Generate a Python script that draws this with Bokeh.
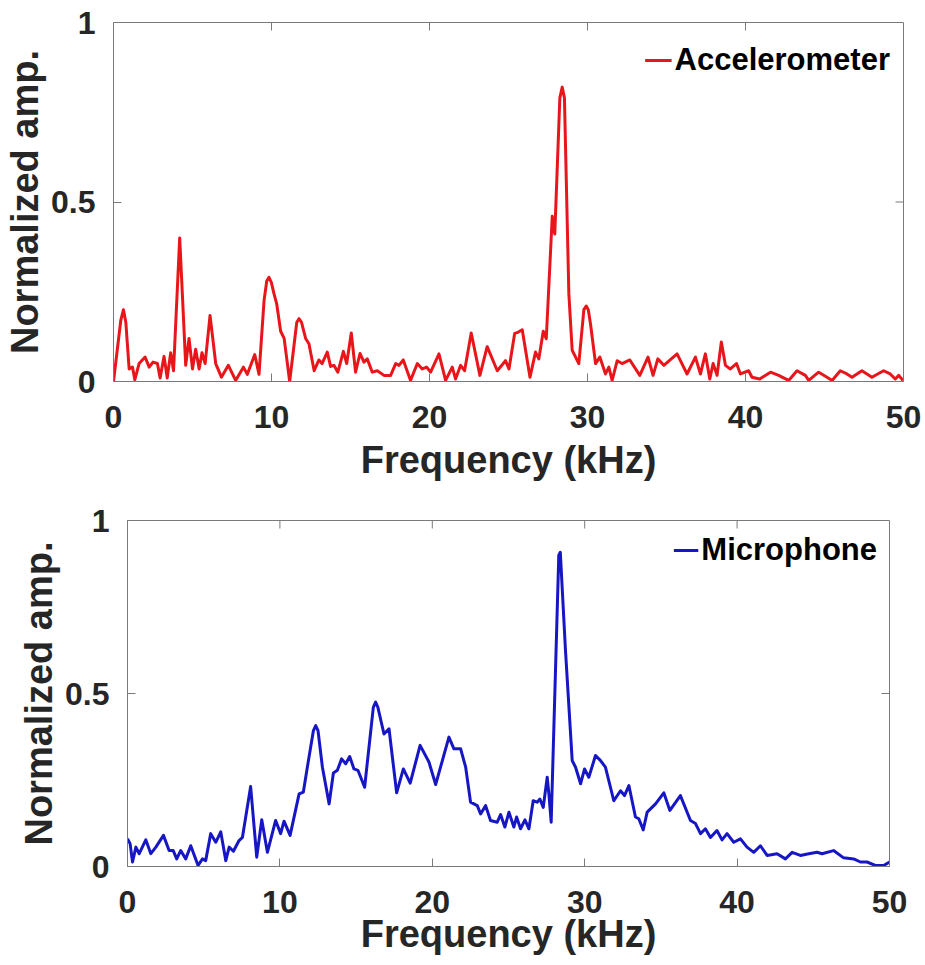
from bokeh.plotting import figure
from bokeh.models import Range1d, FixedTicker, Legend, LegendItem
from bokeh.embed import file_html
from bokeh.resources import INLINE

# ---------------- data ----------------
x_ticks = [0, 10, 20, 30, 40, 50]
y_ticks = [0, 0.5, 1]
y_tick_labels = ["0", "0.5", "1"]
x_label = "Frequency (kHz)"
y_label = "Normalized amp."

acc_name = "Accelerometer"
acc_freq = [0, 0.46, 0.63, 0.78, 0.99, 1.2, 1.35, 1.62, 2.0, 2.26, 2.5, 2.78, 2.95, 3.2, 3.4, 3.62, 3.8,
            4.19, 4.57, 4.78, 5.0, 5.2, 5.42, 5.6, 5.8, 6.11, 6.47, 6.83, 7.27, 7.73, 8.22,
            8.47, 8.94, 9.21, 9.53, 9.7, 9.84, 9.99, 10.16, 10.33, 10.58, 10.8, 11.15,
            11.6, 11.74, 11.9, 12.16, 12.37, 12.7,
            13.0, 13.2, 13.53, 13.74, 13.95, 14.2, 14.55, 14.76, 15.05, 15.32, 15.6, 15.85,
            16.06, 16.38, 16.7, 17.12, 17.54, 17.86, 18.07, 18.34, 18.8, 19.23, 19.54, 19.82,
            20.07, 20.6, 21.02, 21.44, 21.65, 21.97, 22.22, 22.64, 23.19, 23.65, 24.29, 24.81,
            25.03, 25.39, 25.6, 25.87, 26.36, 26.71, 26.92, 27.2, 27.39, 27.77, 27.93, 28.25,
            28.4, 28.54, 28.82, 29.03, 29.45, 29.77, 29.92, 30.05, 30.19, 30.51, 30.78, 31.14, 31.35, 31.56,
            31.88, 32.19, 32.68, 33.31, 33.83, 34.15, 34.45, 34.83, 35.67, 36.3, 36.83, 37.15,
            37.46, 37.74, 37.95, 38.2, 38.47, 38.73, 39.04, 39.43, 39.68, 40.2, 40.41, 40.9,
            41.58, 42.1, 42.73, 43.26, 43.79, 44.0, 44.63, 45.16, 45.48, 46.0, 46.42, 46.74,
            47.37, 48.0, 48.74, 49.16, 49.48, 49.7, 49.97]
acc_amp = [0.0, 0.17, 0.20, 0.165, 0.035, 0.04, 0.005, 0.05, 0.068, 0.04, 0.054, 0.05, 0.01, 0.07, 0.01, 0.08, 0.03,
           0.40, 0.045, 0.12, 0.035, 0.09, 0.035, 0.08, 0.05, 0.184, 0.05, 0.012, 0.045, 0.003, 0.04,
           0.02, 0.075, 0.02, 0.226, 0.28, 0.29, 0.276, 0.244, 0.216, 0.14, 0.12, 0.0,
           0.165, 0.175, 0.165, 0.12, 0.105, 0.03,
           0.06, 0.05, 0.082, 0.042, 0.045, 0.026, 0.084, 0.05, 0.135, 0.026, 0.078, 0.054,
           0.063, 0.026, 0.03, 0.017, 0.017, 0.05, 0.045, 0.06, 0.003, 0.05, 0.035, 0.04,
           0.026, 0.077, 0.003, 0.04, 0.007, 0.045, 0.03, 0.135, 0.017, 0.097, 0.03, 0.058,
           0.035, 0.134, 0.137, 0.144, 0.012, 0.082, 0.063, 0.14, 0.119, 0.46, 0.411, 0.79,
           0.82, 0.79, 0.244, 0.087, 0.05, 0.20, 0.21, 0.20, 0.16, 0.05, 0.068, 0.021, 0.04, 0.003,
           0.058, 0.05, 0.06, 0.017, 0.068, 0.017, 0.063, 0.045, 0.077, 0.021, 0.068, 0.021,
           0.077, 0.007, 0.05, 0.017, 0.11, 0.045, 0.035, 0.05, 0.021, 0.03, 0.012, 0.007,
           0.026, 0.017, 0.003, 0.03, 0.017, 0.003, 0.026, 0.012, 0.003, 0.03, 0.021, 0.012,
           0.03, 0.012, 0.03, 0.021, 0.007, 0.017, 0.003]

mic_name = "Microphone"
mic_freq = [0, 0.17, 0.33, 0.55, 0.77, 1.2, 1.53, 1.86, 2.36, 2.73, 3.0, 3.23, 3.49, 3.82, 4.15,
            4.63, 4.92, 5.13, 5.46, 5.79, 6.12, 6.45, 6.67, 6.95, 7.32, 7.54, 8.08, 8.48, 8.81,
            9.18, 9.72, 10.05, 10.27, 10.67, 11.26, 11.54, 11.8, 12.2, 12.35, 12.5, 12.79, 13.23, 13.51,
            13.77, 14.05, 14.32, 14.58, 14.86, 15.12, 15.56, 16.13, 16.28, 16.43, 16.83, 17.16, 17.66, 18.1,
            18.55, 19.2, 19.78, 20.22, 20.54, 21.09, 21.42, 21.86, 22.19, 22.51, 22.95, 23.17,
            23.5, 23.82, 24.26, 24.48, 24.76, 25.03, 25.35, 25.53, 25.79, 26.08, 26.34, 26.62,
            26.88, 27.06, 27.28, 27.54, 27.65, 27.8, 28.3, 28.4, 28.74, 29.18, 29.4, 29.73,
            29.99, 30.27, 30.71, 31.04, 31.36, 31.91, 32.35, 32.61, 32.9, 33.33, 33.55, 33.84,
            34.1, 34.65, 35.19, 35.59, 36.28, 36.94, 37.27, 37.6, 37.92, 38.25, 38.68, 39.01,
            39.34, 39.78, 40.22, 40.65, 41.09, 41.53, 41.97, 42.62, 43.17, 43.61, 44.15, 44.7,
            45.25, 45.57, 46.33, 46.99, 47.65, 48.09, 48.52, 49.07, 49.62, 50.0]
mic_amp = [0.08, 0.066, 0.013, 0.056, 0.037, 0.077, 0.037, 0.056, 0.09, 0.046, 0.046, 0.022, 0.046, 0.022, 0.06,
           0.003, 0.022, 0.017, 0.095, 0.07, 0.1, 0.017, 0.056, 0.044, 0.075, 0.084, 0.231, 0.027, 0.135,
           0.041, 0.133, 0.095, 0.131, 0.09, 0.21, 0.215, 0.287, 0.393, 0.407, 0.393, 0.287, 0.181, 0.27,
           0.278, 0.311, 0.297, 0.318, 0.282, 0.278, 0.229, 0.46, 0.475, 0.46, 0.383, 0.398, 0.213, 0.282,
           0.241, 0.35, 0.302, 0.237, 0.287, 0.374, 0.34, 0.34, 0.287, 0.186, 0.176, 0.152,
           0.176, 0.133, 0.128, 0.15, 0.114, 0.157, 0.114, 0.143, 0.109, 0.135, 0.109, 0.19,
           0.186, 0.195, 0.171, 0.258, 0.21, 0.128, 0.9, 0.908, 0.624, 0.306, 0.287, 0.239,
           0.282, 0.258, 0.321, 0.306, 0.287, 0.19, 0.219, 0.205, 0.234, 0.143, 0.138, 0.106,
           0.157, 0.181, 0.213, 0.162, 0.205, 0.133, 0.124, 0.095, 0.109, 0.084, 0.104, 0.077,
           0.095, 0.07, 0.08, 0.056, 0.041, 0.06, 0.032, 0.037, 0.022, 0.041, 0.032, 0.037,
           0.041, 0.037, 0.046, 0.025, 0.022, 0.013, 0.013, 0.003, 0.003, 0.013]

assert len(acc_freq) == len(acc_amp)
assert len(mic_freq) == len(mic_amp)

# ---------------- styling ----------------
FONT = "Liberation Sans"
GRAY = "#7a7a7a"
TXT = "#262626"
TICK_LEN = 8


def style_axis(ax, ticks):
    ax.ticker = FixedTicker(ticks=ticks)
    ax.major_tick_in = TICK_LEN
    ax.major_tick_out = 0
    ax.minor_tick_line_color = None
    ax.axis_line_color = GRAY
    ax.major_tick_line_color = GRAY
    ax.major_label_text_font = FONT
    ax.major_label_text_font_style = "bold"
    ax.major_label_text_color = TXT
    ax.major_label_text_font_size = "32px"
    ax.axis_label_text_font = FONT
    ax.axis_label_text_font_style = "bold"
    ax.axis_label_text_color = TXT
    ax.axis_label_text_font_size = "38px"


def make_panel(freq, amp, color, name, frame_w, frame_h, border_left, border_top,
               border_bottom, leg_margin, leg_h, glyph_w, xlab_standoff):
    p = figure(frame_width=frame_w, frame_height=frame_h, output_backend="svg",
               toolbar_location=None, x_range=Range1d(0, 50), y_range=Range1d(0, 1),
               min_border_left=border_left, min_border_top=border_top,
               min_border_bottom=border_bottom, min_border_right=22)
    p.background_fill_color = "white"
    p.border_fill_color = "white"
    p.outline_line_color = GRAY
    p.xgrid.visible = False
    p.ygrid.visible = False

    # mirrored ticks on the top and right edges of the box
    x_in = [t for t in x_ticks if 0 < t < 50]
    y_in = [t for t in y_ticks if 0 < t < 1]
    dy = TICK_LEN / frame_h
    dx = TICK_LEN * 50 / frame_w
    p.segment(x0=x_in, y0=[1] * len(x_in), x1=x_in, y1=[1 - dy] * len(x_in),
              line_color=GRAY, line_width=1)
    p.segment(x0=[50] * len(y_in), y0=y_in, x1=[50 - dx] * len(y_in), y1=y_in,
              line_color=GRAY, line_width=1)

    r = p.line(freq, amp, line_color=color, line_width=3, line_join="round")

    xa = p.xaxis[0]
    ya = p.yaxis[0]
    style_axis(xa, x_ticks)
    style_axis(ya, y_ticks)
    ya.major_label_overrides = dict(zip(y_ticks, y_tick_labels))
    xa.axis_label = x_label
    ya.axis_label = y_label
    xa.major_label_standoff = 24
    xa.axis_label_standoff = xlab_standoff
    ya.major_label_standoff = 18
    ya.axis_label_standoff = 2

    leg = Legend(items=[LegendItem(label=name, renderers=[r])], location="top_right",
                 border_line_alpha=0, background_fill_alpha=0, padding=0, margin=leg_margin,
                 spacing=0, label_text_font=FONT, label_text_font_size="31px",
                 label_text_font_style="bold", label_text_color="black",
                 glyph_width=glyph_w, glyph_height=leg_h, label_height=leg_h,
                 label_standoff=3)
    p.add_layout(leg)
    return p


p1 = make_panel(acc_freq, acc_amp, "#e8161b", acc_name, 790, 359, 113, 22, 121, 13, 50, 27, 8)
p2 = make_panel(mic_freq, mic_amp, "#1616c4", mic_name, 762, 346, 127, 18, 40, 12, 34, 25, -3)

open("out.html", "w").write(file_html([p1, p2], INLINE))
